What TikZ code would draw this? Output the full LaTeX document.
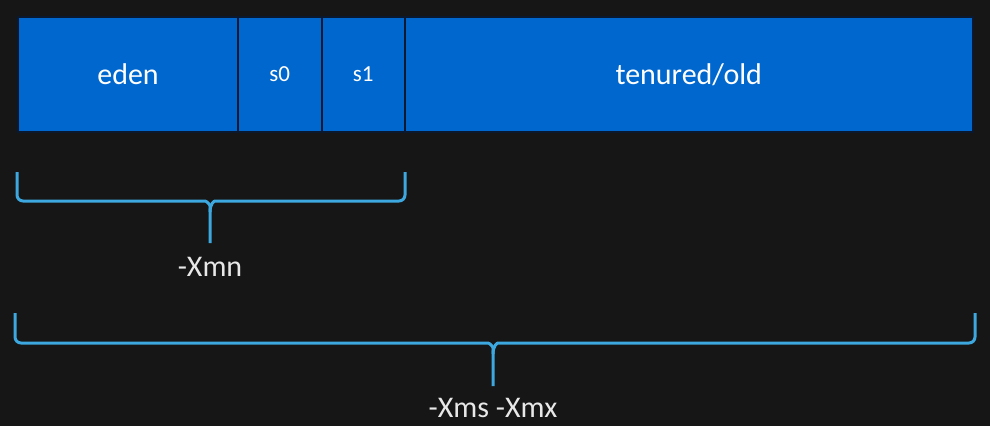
\documentclass[tikz,border=0pt]{standalone}
\usepackage{fontspec}
\setmainfont{Carlito}
\usetikzlibrary{positioning}
\definecolor{board}{HTML}{161616}
\definecolor{genblue}{HTML}{0067CE}
\definecolor{genedge}{HTML}{0A1830}
\definecolor{bracecol}{HTML}{3DA8DF}
\definecolor{labelgray}{HTML}{E8E8E8}
\tikzset{
  gen/.style={draw=genedge, line width=2pt, fill=genblue, text=white, minimum height=115pt,
    inner sep=0pt, outer sep=0pt, font=\fontsize{30}{36}\selectfont},
  survivor/.style={gen, minimum width=83.5pt, font=\fontsize{23}{28}\selectfont},
  membrace/.style={draw=bracecol, line width=3pt, rounded corners=6pt},
  flag/.style={text=labelgray, font=\fontsize{30}{36}\selectfont}
}
\begin{document}
\begin{tikzpicture}[x=1pt,y=-1pt]
  % board
  \fill[board] (0,0) rectangle (990,426);
  \useasboundingbox (0,0) rectangle (990,426);

  % heap generations
  \node[gen, minimum width=220pt] (eden) at (128,74.5) {eden};
  \node[survivor, right=0pt of eden] (s0) {s0};
  \node[survivor, right=0pt of s0] (s1) {s1};
  \node[gen, minimum width=567.5pt, right=0pt of s1] (old) {tenured/old};

  % young generation brace
  \draw[membrace] (17,172) -- (17,201) -- (199,201) .. controls (206,201) and (210,204) .. (210,212) -- (210,243);
  \draw[membrace] (405,172) -- (405,201) -- (221,201) .. controls (214,201) and (210,204) .. (210,212);
  \node[flag] (xmn) at (210,267) {-Xmn};

  % whole heap brace
  \draw[membrace] (15,313) -- (15,343) -- (482,343) .. controls (489,343) and (493,346) .. (493,354) -- (493,386);
  \draw[membrace] (975,313) -- (975,343) -- (504,343) .. controls (497,343) and (493,346) .. (493,354);
  \node[flag] (xms) at (493,408) {-Xms -Xmx};
\end{tikzpicture}
\end{document}
